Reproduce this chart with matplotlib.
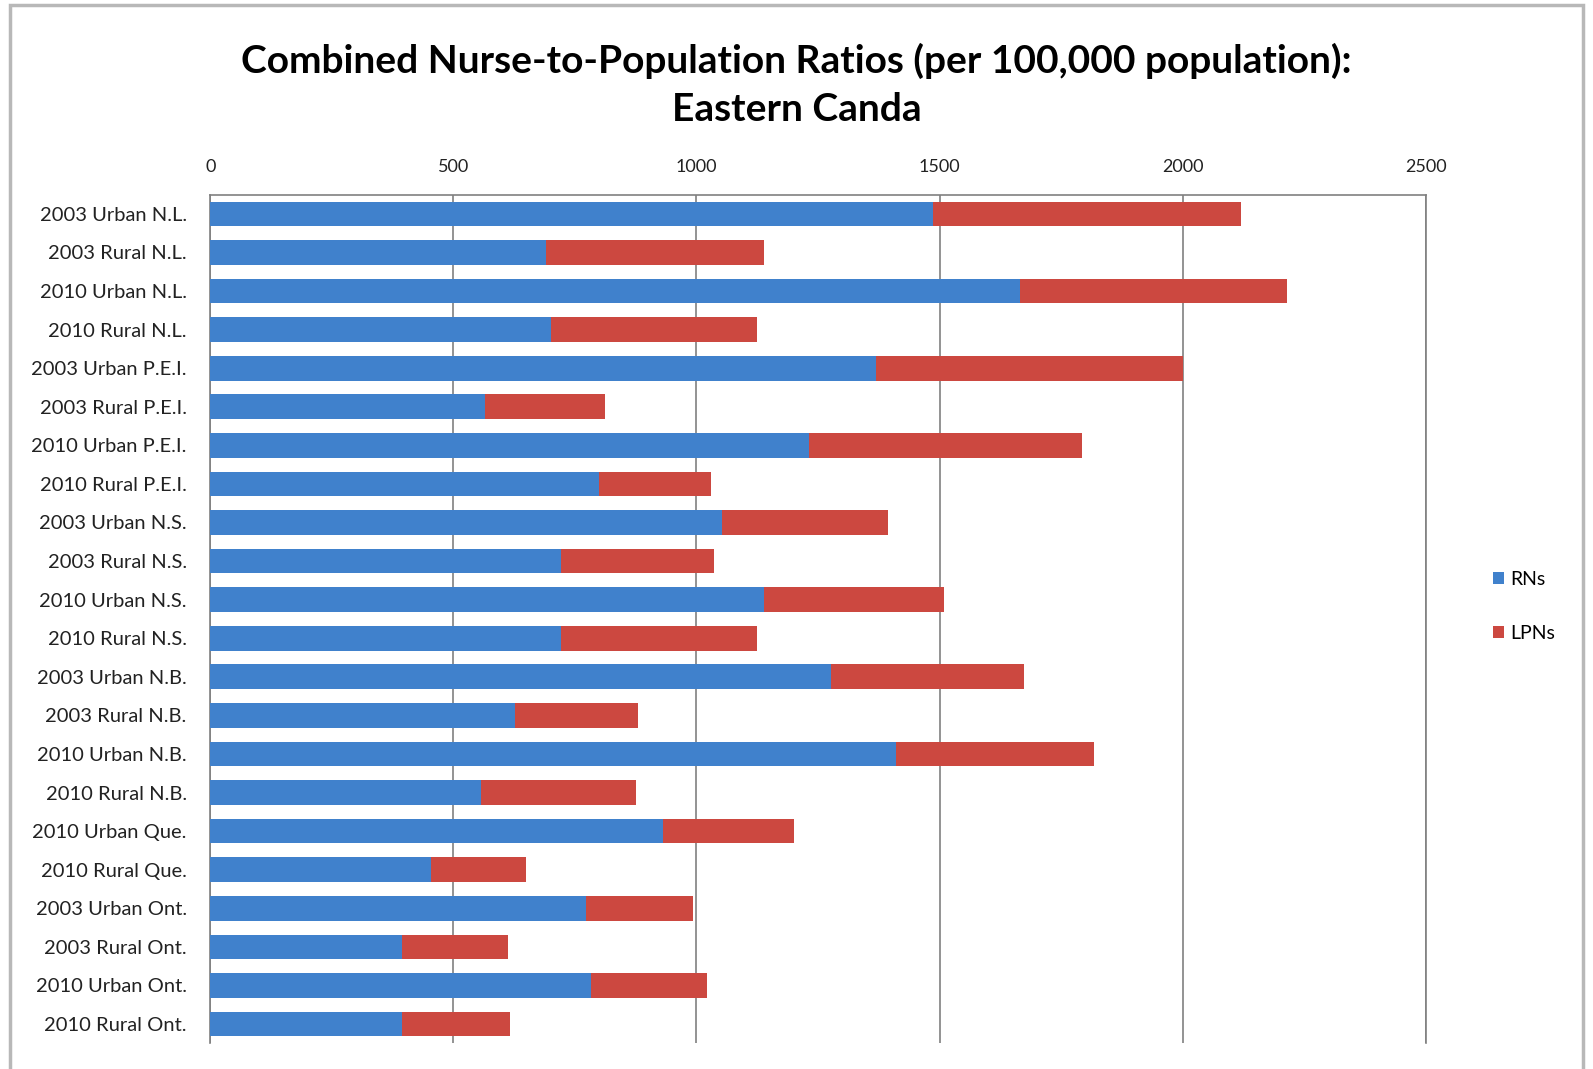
import matplotlib
matplotlib.use("Agg")
import matplotlib.pyplot as plt
from matplotlib.patches import Rectangle

categories = ["2003 Urban N.L.", "2003 Rural N.L.", "2010 Urban N.L.", "2010 Rural N.L.",
              "2003 Urban P.E.I.", "2003 Rural P.E.I.", "2010 Urban P.E.I.", "2010 Rural P.E.I.",
              "2003 Urban N.S.", "2003 Rural N.S.", "2010 Urban N.S.", "2010 Rural N.S.",
              "2003 Urban N.B.", "2003 Rural N.B.", "2010 Urban N.B.", "2010 Rural N.B.",
              "2010 Urban Que.", "2010 Rural Que.", "2003 Urban Ont.", "2003 Rural Ont.",
              "2010 Urban Ont.", "2010 Rural Ont."]
rns = [1487, 691, 1665, 700, 1370, 566, 1232, 800, 1053, 721, 1138, 721,
       1276, 627, 1410, 556, 931, 453, 773, 395, 783, 395]
totals = [2120, 1138, 2214, 1124, 2001, 812, 1792, 1030, 1393, 1036, 1510, 1124,
          1673, 879, 1817, 875, 1201, 650, 992, 612, 1021, 616]
lpns = [t - r for t, r in zip(totals, rns)]
xticks = [0, 500, 1000, 1500, 2000, 2500]

plt.rcParams['font.family'] = ['Lato', 'DejaVu Sans']

fig = plt.figure(figsize=(15.93, 10.69), dpi=100)
fig.patches.append(Rectangle((0.006, -0.01), 0.988, 1.005, transform=fig.transFigure,
                             fill=False, edgecolor='#b8b8b8', linewidth=2.5))
ax = fig.add_axes([0.132, 0.024, 0.763, 0.794])

y = list(range(len(categories)))
blue = '#4081cc'
red = '#cc4840'
ax.barh(y, rns, height=0.64, color=blue, label='RNs', zorder=3)
ax.barh(y, lpns, left=rns, height=0.64, color=red, label='LPNs', zorder=3)

ax.set_xlim(0, 2500)
ax.set_ylim(len(categories) - 0.5, -0.5)
ax.set_yticks(y)
ax.set_yticklabels(categories, fontsize=14.5)
ax.set_xticks(xticks)
ax.set_xticklabels([str(v) for v in xticks], fontsize=13)
ax.xaxis.tick_top()
ax.tick_params(axis='both', length=0, colors='#222222')
ax.tick_params(axis='x', pad=14)
ax.tick_params(axis='y', pad=17)
ax.grid(axis='x', color='#808080', linewidth=1.2, zorder=0)
for s in ['left', 'top', 'right']:
    ax.spines[s].set_color('#808080')
    ax.spines[s].set_linewidth(1.2)
ax.spines['bottom'].set_visible(False)

fig.text(0.5, 0.943, "Combined Nurse-to-Population Ratios (per 100,000 population):",
         ha='center', va='center', fontsize=28, fontweight='bold')
fig.text(0.5, 0.898, "Eastern Canda", ha='center', va='center', fontsize=28, fontweight='bold')

fig.legend(loc='center left', bbox_to_anchor=(0.926, 0.433), frameon=False, fontsize=14,
           handlelength=0.6, handleheight=0.6, handletextpad=0.3, labelspacing=1.9)

fig.savefig("out.png", dpi=100)
